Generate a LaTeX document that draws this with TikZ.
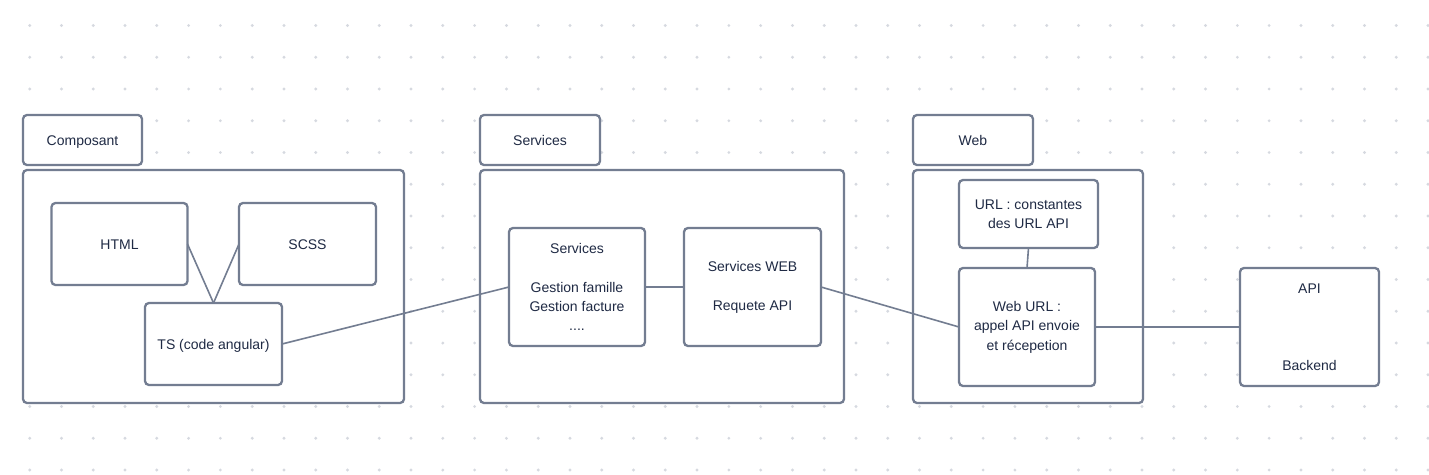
\documentclass[tikz,border=0pt]{standalone}
\usepackage{fontspec}
\setmainfont{Liberation Sans}
\definecolor{edge}{HTML}{737D91}
\definecolor{ink}{HTML}{1F2A44}
\definecolor{dotc}{HTML}{D6D9E0}
\tikzset{
  box/.style={draw=edge, line width=2.3pt, rounded corners=4pt, fill=white,
    text=ink, align=center, inner sep=0pt, outer sep=0pt,
    font=\fontsize{14}{19.4}\selectfont},
  oneline/.style={text height=10pt, text depth=0pt},
  conn/.style={draw=edge, line width=1.6pt}
}
\begin{document}
\begin{tikzpicture}[x=1pt,y=-1pt]
\useasboundingbox (0,0) rectangle (1429,474);
\fill[white] (0,0) rectangle (1429,474);
\foreach \i in {0,...,44}{
  \foreach \j in {0,...,14}{
    \fill[dotc] ({29.7+31.78*\i},{25.5+31.75*\j}) circle (1.6);
  }
}
% groups
\node[box, oneline, minimum width=119, minimum height=50] (tabC) at (82.5,140) {Composant};
\node[box, minimum width=381, minimum height=233] (boxC) at (213.5,286.5) {};
\node[box, oneline, minimum width=120, minimum height=50] (tabS) at (540,140) {Services};
\node[box, minimum width=364, minimum height=233] (boxS) at (662,286.5) {};
\node[box, oneline, minimum width=120, minimum height=50] (tabW) at (973,140) {Web};
\node[box, minimum width=230, minimum height=233] (boxW) at (1028,286.5) {};
% inner nodes
\node[box, oneline, minimum width=136, minimum height=82] (html) at (119.5,244) {HTML};
\node[box, oneline, minimum width=137, minimum height=82] (scss) at (307.5,244) {SCSS};
\node[box, oneline, minimum width=137, minimum height=82] (ts) at (213.5,344) {TS (code angular)};
\node[box, minimum width=136, minimum height=118] (serv) at (577,287)
  {Services\\[19.4pt]Gestion famille\\Gestion facture\\....};
\node[box, minimum width=137, minimum height=118] (servweb) at (752.5,287)
  {Services WEB\\[19.4pt]Requete API};
\node[box, minimum width=139, minimum height=68] (url) at (1028.5,214)
  {URL : constantes\\des URL API};
\node[box, minimum width=136, minimum height=118] (weburl) at (1027,327)
  {Web URL :\\appel API envoie\\et récepetion};
\node[box, minimum width=139, minimum height=118] (api) at (1309.5,327)
  {API\\[58pt]Backend};
% connectors
\draw[conn] (html.east) -- (ts.north);
\draw[conn] (scss.west) -- (ts.north);
\draw[conn] (ts.east) -- (serv.west);
\draw[conn] (serv.east) -- (servweb.west);
\draw[conn] (servweb.east) -- (weburl.west);
\draw[conn] (url.south) -- (weburl.north);
\draw[conn] (weburl.east) -- (api.west);
\end{tikzpicture}
\end{document}
